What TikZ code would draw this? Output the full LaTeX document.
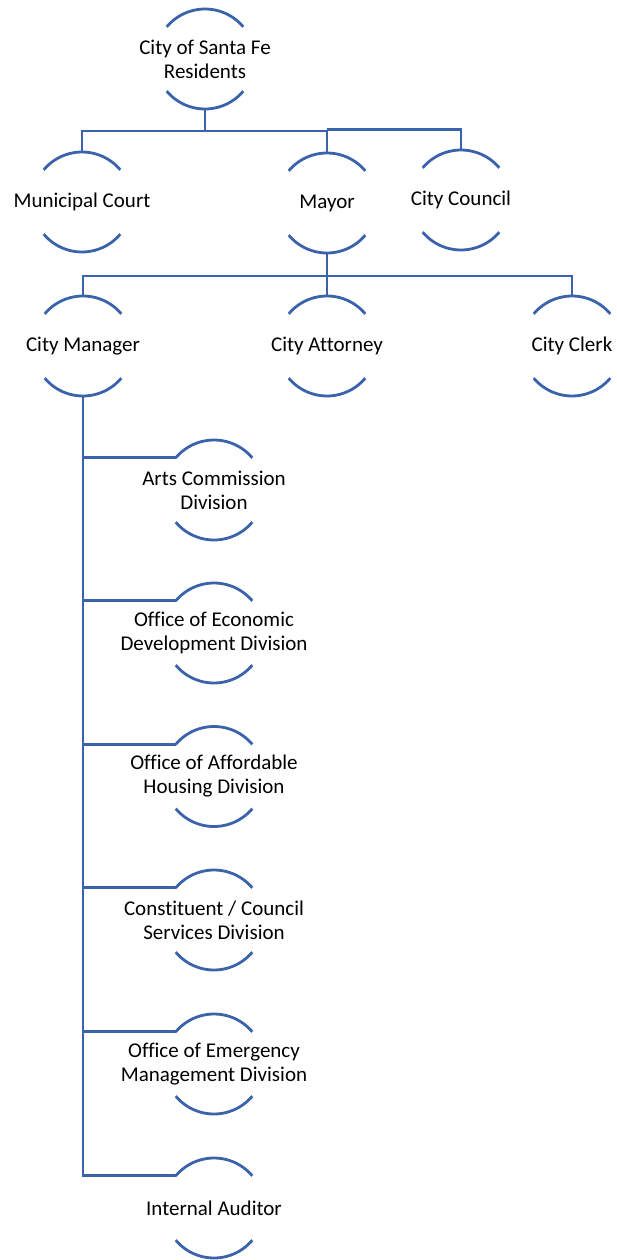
\documentclass[tikz,border=0pt]{standalone}
\usepackage{fontspec}
\setmainfont[Ligatures=NoCommon]{Carlito}
\usepackage{tikz}
\definecolor{orgblue}{RGB}{59,99,172}
\tikzset{unit/.style={rectangle, minimum width=100pt, minimum height=100pt, inner sep=0pt, outer sep=0pt, align=center, text=black, font=\fontsize{21}{24}\selectfont},
    % connectors and arcs share the same blue
    link/.style={draw=orgblue, line width=2.8pt},
    rim/.style={draw=orgblue, line width=2.8pt},
}
\newcommand{\halfarcs}[1]{%
  \draw[rim] ([shift={(40:50pt)}]#1.center) arc[start angle=40, end angle=140, radius=50pt];
  \draw[rim] ([shift={(220:50pt)}]#1.center) arc[start angle=220, end angle=320, radius=50pt];
  \coordinate (#1-l) at ([shift={(140:50pt)}]#1.center);
}
\begin{document}
\begin{tikzpicture}[x=1pt, y=-1pt]
\useasboundingbox (0,0) rectangle (616,1260);
\node[unit] (res) at (205,59) {City of Santa Fe\\Residents}; % top
\node[unit] (court) at (82,202) {Municipal Court};
\node[unit] (mayor) at (327,203) {Mayor};
\node[unit] (council) at (461,200) {City Council};
\node[unit] (mgr) at (83,346) {City Manager};
\node[unit] (atty) at (327,346) {City Attorney};
\node[unit] (clerk) at (572,346) {City Clerk};
\node[unit] (arts) at (214,490) {Arts Commission\\Division}; % divisions
\node[unit] (econ) at (214,633) {Office of Economic\\Development Division};
\node[unit] (house) at (214,776.5) {Office of Affordable\\Housing Division};
\node[unit] (const) at (214,920) {Constituent / Council\\Services Division};
\node[unit] (emerg) at (214,1064) {Office of Emergency\\Management Division};
\node[unit] (audit) at (214,1208) {Internal Auditor};
\foreach \n in {res,court,mayor,council,mgr,atty,clerk,arts,econ,house,const,emerg,audit}
  {\halfarcs{\n}}
\draw[link] (res.south) -- ++(0,22) coordinate (bus1) -| (court.north);
\draw[link] (bus1) -| (mayor.north);
\draw[link] ([yshift=1.5pt]bus1 -| mayor.north) -| (council.north);
\draw[link] (mayor.south) -- ++(0,23) coordinate (bus2) -| (mgr.north);
\draw[link] (bus2) -- (atty.north);
\draw[link] (bus2) -| (clerk.north);
\foreach \n in {arts,econ,house,const,emerg,audit}
  {\draw[link] (mgr.south) |- (\n-l);}
\end{tikzpicture}
\end{document}
